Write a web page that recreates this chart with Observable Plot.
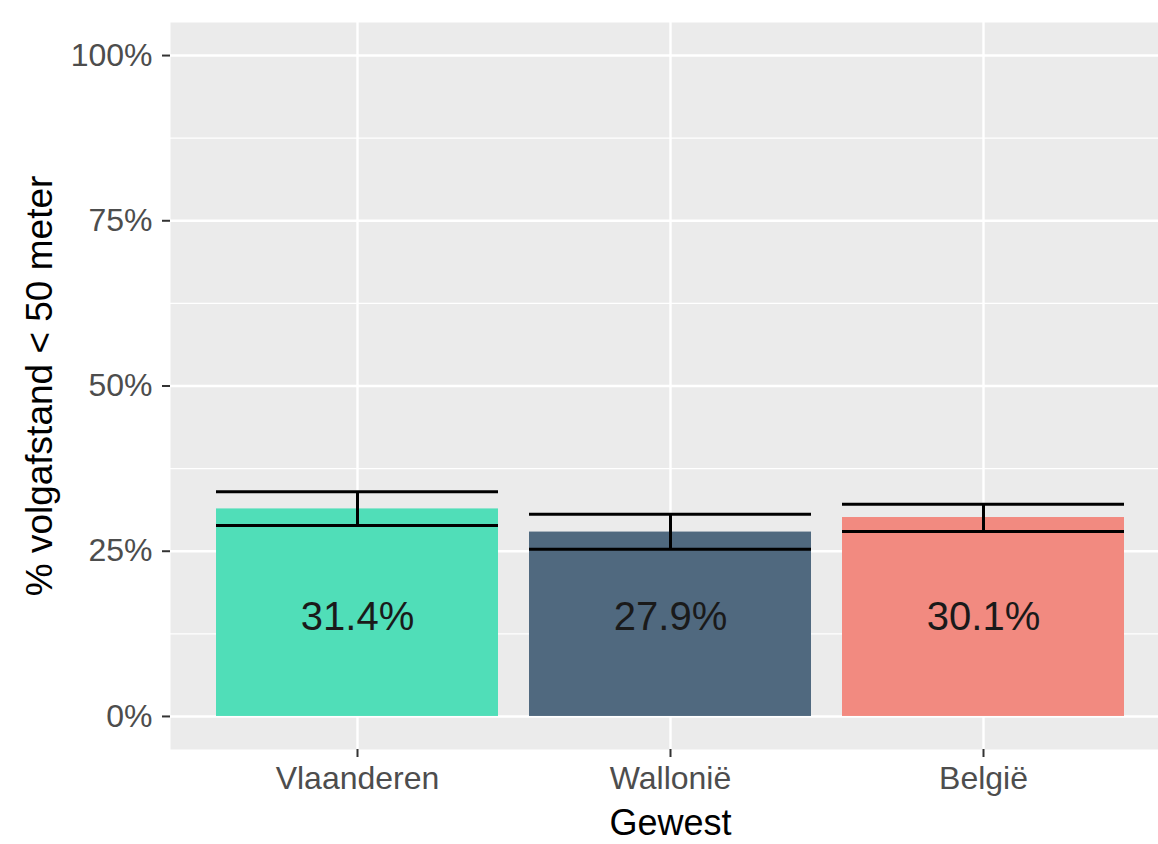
<!DOCTYPE html>
<html>
<head>
<meta charset="utf-8">
<script src="https://cdn.jsdelivr.net/npm/d3@7"></script>
<script src="https://cdn.jsdelivr.net/npm/@observablehq/plot@0.6"></script>
<style>
  html, body { margin: 0; padding: 0; background: #ffffff; }
  #chart { width: 1158px; height: 844px; }
</style>
</head>
<body>
<div id="chart"></div>
<script>
// Share of vehicles with a following distance under 50 metres, per region
const regions = ["Vlaanderen", "Wallonië", "België"];
const shares = [31.4, 27.9, 30.1];
const lowerCI = [28.9, 25.3, 28.0];
const upperCI = [34.0, 30.6, 32.1];
const regionColors = ["#50DEB8", "#50697F", "#F28A80"];
const yTicks = [0, 25, 50, 75, 100];
const yMinorTicks = [12.5, 37.5, 62.5, 87.5];
const labelLevel = 15; // value labels sit at this height inside the bars

const rows = regions.map((gewest, i) => ({
  gewest,
  pct: shares[i],
  lo: lowerCI[i],
  hi: upperCI[i]
}));

const chart = Plot.plot({
  width: 1158,
  height: 844,
  marginLeft: 170,
  marginRight: 0,
  marginTop: 22,
  marginBottom: 95,
  style: { fontFamily: "'Liberation Sans', Arial, sans-serif", background: "#ffffff", overflow: "visible" },
  x: { domain: regions, range: [168, 1171], paddingInner: 0.1, paddingOuter: 0.15, align: 0.5, axis: null },
  y: { domain: [-5, 105], axis: null },
  color: { domain: regions, range: regionColors },
  marks: [
    // panel background and grid
    Plot.frame({ fill: "#EBEBEB", stroke: null }),
    Plot.ruleY(yMinorTicks, { stroke: "#ffffff", strokeWidth: 1.2 }),
    Plot.ruleY(yTicks, { stroke: "#ffffff", strokeWidth: 2.4 }),
    Plot.ruleX(regions, { x: d => d, stroke: "#ffffff", strokeWidth: 2.4 }),
    // bars
    Plot.barY(rows, { x: "gewest", y: "pct", fill: "gewest" }),
    // confidence intervals
    Plot.tickY(rows, { x: "gewest", y: "hi", stroke: "#000000", strokeWidth: 3 }),
    Plot.tickY(rows, { x: "gewest", y: "lo", stroke: "#000000", strokeWidth: 3 }),
    Plot.ruleX(rows, { x: "gewest", y1: "lo", y2: "hi", stroke: "#000000", strokeWidth: 3 }),
    // value labels
    Plot.text(rows, {
      x: "gewest",
      y: () => labelLevel,
      text: d => d.pct.toFixed(1) + "%",
      fontSize: 40,
      fill: "#1a1a1a"
    }),
    // axes
    Plot.axisX({
      tickSize: 8, tickPadding: 9, fontSize: 32,
      fill: "#4D4D4D", stroke: "#333333", strokeWidth: 2, label: null
    }),
    Plot.axisY({
      ticks: yTicks, tickSize: 8, tickPadding: 10, fontSize: 32,
      tickFormat: d => d + "%",
      fill: "#4D4D4D", stroke: "#333333", strokeWidth: 2, label: null
    }),
    // axis titles
    Plot.text(["Gewest"], {
      frameAnchor: "bottom", lineAnchor: "middle", dx: 6, dy: 74, fontSize: 36, fill: "#000000"
    }),
    Plot.text(["% volgafstand < 50 meter"], {
      frameAnchor: "left", textAnchor: "middle", lineAnchor: "middle",
      dx: -130, rotate: -90, fontSize: 37, fill: "#000000"
    })
  ]
});

document.getElementById("chart").appendChild(chart);
</script>
</body>
</html>
